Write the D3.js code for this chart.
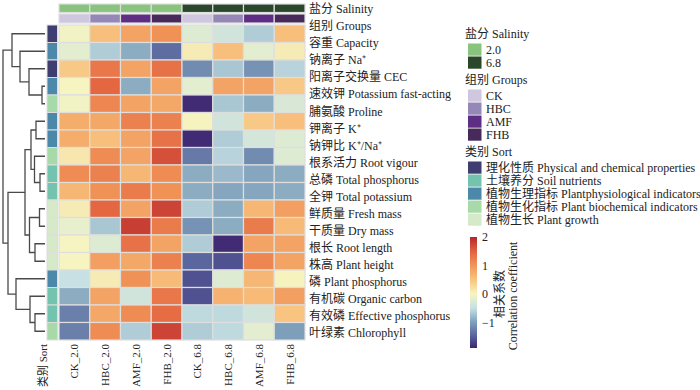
<!DOCTYPE html>
<html><head><meta charset="utf-8">
<script src="https://cdn.jsdelivr.net/npm/d3@7"></script>
<style>
body{margin:0;background:#fff;}
svg{display:block;font-family:"Liberation Serif","Times New Roman","Noto Sans CJK SC",serif;}
</style></head>
<body><svg id="c" width="700" height="390"></svg>
<script>
// ---------- data ----------
const columns = ["CK_2.0","HBC_2.0","AMF_2.0","FHB_2.0","CK_6.8","HBC_6.8","AMF_6.8","FHB_6.8"];
const colSalinity = ["2.0","2.0","2.0","2.0","6.8","6.8","6.8","6.8"];
const colGroup = ["CK","HBC","AMF","FHB","CK","HBC","AMF","FHB"];
const salinityLevels = ["2.0","6.8"];
const salinityColors = ["#88c47e","#2a462b"];
const groupLevels = ["CK","HBC","AMF","FHB"];
const groupColors = ["#cec7df","#9587b6","#5d2e83","#472a59"];
const sortLevels = ["理化性质 Physical and chemical properties","土壤养分 Soil nutrients","植物生理指标 Plantphysiological indicators","植物生化指标 Plant biochemical indicators","植物生长 Plant growth"];
const sortColors = ["#3e3f70","#74c3af","#4b88a9","#a7d9a9","#d6e9c8"];
const rowLabels = ["容重 Capacity","钠离子 Na⁺","阳离子交换量 CEC","速效钾 Potassium fast-acting","脯氨酸 Proline","钾离子 K⁺","钠钾比 K⁺/Na⁺","根系活力 Root vigour","总磷 Total phosphorus","全钾 Total potassium","鲜质量 Fresh mass","干质量 Dry mass","根长 Root length","株高 Plant height","磷 Plant phosphorus","有机碳 Organic carbon","有效磷 Effective phosphorus","叶绿素 Chlorophyll"];
const rowSort = [0,2,0,2,3,2,2,3,1,1,4,4,4,4,2,1,1,3];
const corr = [
  [-0.05, 0.55, 0.85, 1.05, -0.25, -0.40, -0.65, 0.55],
  [-0.20, -0.65, -0.90, -1.40, 0.10, 0.55, -0.20, 0.10],
  [0.45, 1.30, 0.85, 1.35, -1.15, -0.70, -1.10, -0.60],
  [0.00, 1.45, -0.90, 0.85, -0.20, 0.85, 0.85, 0.45],
  [-0.05, 1.15, 0.85, 0.80, -1.85, -0.70, -0.90, -0.30],
  [0.75, 0.80, 1.20, 1.20, 0.02, -0.40, 0.45, 0.55],
  [0.75, 0.55, 0.85, 1.35, -1.85, -0.65, -0.35, -0.25],
  [0.15, 1.10, 0.85, 1.65, -1.30, -0.60, -1.15, -0.25],
  [1.10, 1.20, 0.65, 1.10, -0.90, -0.80, -0.95, -0.90],
  [0.65, 1.05, 1.25, 1.05, -0.90, -0.95, -0.95, -0.90],
  [0.10, 1.45, 0.85, 1.75, -0.65, -0.90, 0.65, 0.90],
  [-0.15, -0.70, 1.80, 1.25, -1.10, -0.90, 1.25, 0.60],
  [0.00, -0.25, 1.35, 0.85, -0.65, -1.85, 0.85, 0.85],
  [0.00, 0.90, 0.80, 1.20, -1.45, -1.60, 1.15, 0.85],
  [-0.50, 0.10, 1.05, 0.60, -1.60, -0.25, 0.65, 0.02],
  [-0.90, 0.85, -0.40, 1.30, -1.60, 0.70, 0.60, 0.90],
  [-1.25, 0.80, 1.10, 1.40, -0.55, -0.55, -0.40, 0.50],
  [-1.25, 1.10, -0.65, 1.75, -0.65, -0.55, -0.20, -1.00]
];
// hierarchical clustering merges: [left, right, height]; number = row index, "m#" = earlier merge
const merges = [
  [3, 4, 0.6], [2, "m0", 3.2], [1, "m1", 5.0], [0, "m2", 6.6],
  [5, 6, 1.8], [8, 9, 1.0], [7, "m5", 2.1], ["m4", "m6", 2.8],
  [10, 11, 1.1], [12, 13, 2.0], ["m8", "m9", 3.1], ["m7", "m10", 4.0],
  [16, 17, 2.0], [15, "m12", 3.0], [14, "m13", 5.8], ["m11", "m14", 7.4],
  ["m3", "m15", 8.4]
];
const colorStops = [-1.9, -1.5, -1.0, -0.5, 0, 0.5, 1.0, 1.5, 2.0];
const colorValues = ["#3f2470","#56609b","#7e9fba","#c6e0e3","#f6f5c2","#f8c47f","#f19659","#e3623f","#b5262b"];
const cbTicks = [-1, 0, 1, 2];

// ---------- drawing ----------
const svg = d3.select("#c");
const font = 12;
const x = d3.scaleBand().domain(columns).range([59, 305]);
const y = d3.scaleBand().domain(rowLabels).range([25, 340]);
const color = d3.scaleLinear().domain(colorStops).range(colorValues).interpolate(d3.interpolateRgb).clamp(true);
const salColor = d3.scaleOrdinal().domain(salinityLevels).range(salinityColors);
const grpColor = d3.scaleOrdinal().domain(groupLevels).range(groupColors);
const sortColor = d3.scaleOrdinal().domain(d3.range(sortLevels.length)).range(sortColors);
const cellStroke = "#dedede";

// heat cells
const cells = [];
corr.forEach((row, i) => row.forEach((v, j) => cells.push({r: rowLabels[i], c: columns[j], v})));
svg.append("g").selectAll("rect").data(cells).join("rect")
  .attr("x", d => x(d.c)).attr("y", d => y(d.r))
  .attr("width", x.bandwidth()).attr("height", y.bandwidth())
  .attr("fill", d => color(d.v)).attr("stroke", cellStroke).attr("stroke-width", 1.2);

// top annotation bars
svg.append("g").selectAll("rect").data(columns).join("rect")
  .attr("x", d => x(d)).attr("y", 4).attr("width", x.bandwidth()).attr("height", 8.5)
  .attr("fill", (d, i) => salColor(colSalinity[i])).attr("stroke", cellStroke).attr("stroke-width", 1.2);
svg.append("g").selectAll("rect").data(columns).join("rect")
  .attr("x", d => x(d)).attr("y", 14).attr("width", x.bandwidth()).attr("height", 9)
  .attr("fill", (d, i) => grpColor(colGroup[i])).attr("stroke", cellStroke).attr("stroke-width", 1.2);

// sort column
svg.append("g").selectAll("rect").data(rowLabels).join("rect")
  .attr("x", 47).attr("y", d => y(d)).attr("width", 10.5).attr("height", y.bandwidth())
  .attr("fill", (d, i) => sortColor(rowSort[i])).attr("stroke", cellStroke).attr("stroke-width", 1);

// row labels (with annotation names), evenly spaced as in the reference
const labelAll = ["盐分 Salinity", "组别 Groups"].concat(rowLabels);
const ly = d3.scalePoint().domain(labelAll).range([9, 333]);
svg.append("g").selectAll("text").data(labelAll).join("text")
  .attr("x", 309).attr("y", d => ly(d)).attr("dy", "0.35em")
  .attr("font-size", font).attr("fill", "#222").text(d => d);

// column labels
const bottomLabels = ["类别 Sort"].concat(columns);
const bx = d => d === "类别 Sort" ? 43 : x(d) + x.bandwidth() / 2;
svg.append("g").selectAll("text").data(bottomLabels).join("text")
  .attr("transform", d => `translate(${bx(d) + 4},344) rotate(-90)`)
  .attr("text-anchor", "end").attr("font-size", 11).attr("fill", "#222").text(d => d);

// dendrogram
const hMax = d3.max(merges, m => m[2]);
const dx = d3.scaleLinear().domain([0, hMax]).range([45, 3]);
const nodes = {};
const pos = k => typeof k === "number" ? {x: dx(0), y: y(rowLabels[k]) + y.bandwidth() / 2} : nodes[k];
const links = [];
merges.forEach((m, i) => {
  const a = pos(m[0]), b = pos(m[1]);
  const nx = dx(m[2]);
  nodes["m" + i] = {x: nx, y: (a.y + b.y) / 2};
  links.push(`M${a.x},${a.y}H${nx}V${b.y}H${b.x}`);
});
svg.append("g").selectAll("path").data(links).join("path")
  .attr("d", d => d).attr("fill", "none").attr("stroke", "#4a4a4a").attr("stroke-width", 1.3);

// legends
function legend(title, items, colorsArr, top) {
  const g = svg.append("g");
  g.append("text").attr("x", 465).attr("y", top).attr("dy", "0.35em").attr("font-size", font).attr("fill", "#222").text(title);
  const sy = d3.scaleBand().domain(items).range([top + 9.5, top + 9.5 + 13 * items.length]);
  g.selectAll("rect").data(items).join("rect")
    .attr("x", 468).attr("y", d => sy(d)).attr("width", 13.5).attr("height", sy.bandwidth() - 0.8)
    .attr("fill", (d, i) => colorsArr[i]);
  g.selectAll("text.it").data(items).join("text").attr("class", "it")
    .attr("x", 486).attr("y", d => sy(d) + sy.bandwidth() / 2).attr("dy", "0.35em")
    .attr("font-size", font).attr("fill", "#222").text(d => d);
}
legend("盐分 Salinity", salinityLevels, salinityColors, 34);
legend("组别 Groups", groupLevels, groupColors, 80);
legend("类别 Sort", sortLevels, sortColors, 152);

// colour bar
const cbY = d3.scaleLinear().domain([colorStops[0], colorStops[colorStops.length - 1]]).range([348, 237]);
const grad = svg.append("defs").append("linearGradient").attr("id", "cbg")
  .attr("x1", 0).attr("y1", 1).attr("x2", 0).attr("y2", 0);
grad.selectAll("stop").data(colorStops).join("stop")
  .attr("offset", d => (d - colorStops[0]) / (colorStops[colorStops.length - 1] - colorStops[0]))
  .attr("stop-color", d => color(d));
svg.append("rect").attr("x", 470).attr("y", 237).attr("width", 7).attr("height", 111).attr("fill", "url(#cbg)");
const ax = svg.append("g").attr("transform", "translate(477,0)")
  .call(d3.axisRight(cbY).tickValues(cbTicks).tickFormat(d3.format("d")).tickSize(0).tickPadding(5));
ax.select(".domain").remove();
ax.selectAll("text").attr("font-size", font).attr("font-family", "Liberation Serif, serif").attr("fill", "#222");
svg.append("text").attr("transform", "translate(500,294) rotate(-90)").attr("text-anchor", "middle")
  .attr("dy", "0.35em").attr("font-size", font).attr("fill", "#222").text("相关系数");
svg.append("text").attr("transform", "translate(513,296) rotate(-90)").attr("text-anchor", "middle")
  .attr("dy", "0.35em").attr("font-size", font).attr("fill", "#222").text("Correlation coefficient");
</script></body></html>
